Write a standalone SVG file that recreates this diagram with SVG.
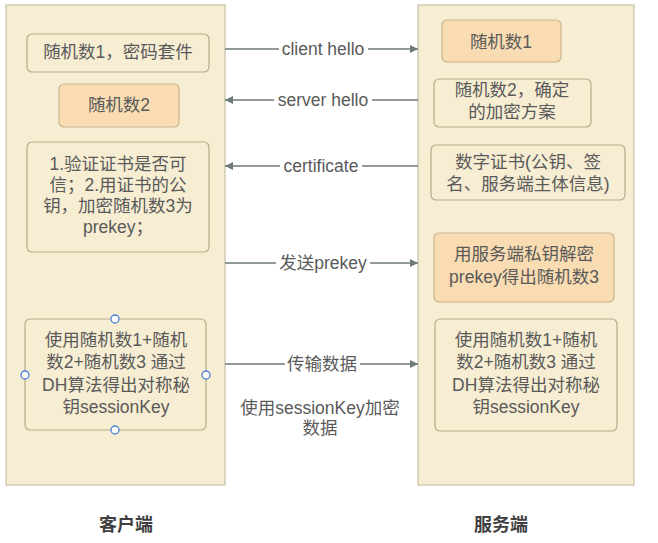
<svg xmlns="http://www.w3.org/2000/svg" width="658" height="543" viewBox="0 0 658 543">
<defs>
<style>
text{font-family:"Liberation Sans","Noto Sans CJK SC",sans-serif;font-size:17.5px;fill:#5a5a5a;text-anchor:middle}
.col{fill:#f6edd2;stroke:#c8c0a6;stroke-width:1.2}
.box{fill:#f6edd2;stroke:#b9ab8c;stroke-width:1.2}
.hot{fill:#f9dcb1;stroke:#c9b48f;stroke-width:1.2}
.ln{stroke:#6e7a79;stroke-width:1.3;fill:none}
.bg{fill:#ffffff}
.h{fill:#ffffff;stroke:#4a7fd6;stroke-width:1.3}
.lbl{font-size:18px;fill:#3f3f3f;font-weight:bold}
</style>
<marker id="ah" viewBox="0 0 10 10" refX="10" refY="5" markerWidth="10" markerHeight="8" markerUnits="userSpaceOnUse" orient="auto">
<path d="M0,0 L10,5 L0,10 z" fill="#6e7a79"/>
</marker>
</defs>
<rect width="658" height="543" fill="#ffffff"/>
<g id="client">
<rect class="col" x="6" y="5" width="219" height="480"/>
</g>
<g id="server">
<rect class="col" x="418" y="5" width="216" height="480"/>
</g>
<g id="connectors">
<line class="ln" x1="225" y1="49" x2="418" y2="49" marker-end="url(#ah)"/>
<line class="ln" x1="418" y1="100" x2="225" y2="100" marker-end="url(#ah)"/>
<line class="ln" x1="418" y1="166" x2="225" y2="166" marker-end="url(#ah)"/>
<line class="ln" x1="225" y1="263" x2="418" y2="263" marker-end="url(#ah)"/>
<line class="ln" x1="225" y1="364" x2="418" y2="364" marker-end="url(#ah)"/>
<rect class="bg" x="279" y="40" width="89" height="18"/>
<rect class="bg" x="274" y="91" width="98" height="18"/>
<rect class="bg" x="280" y="157" width="82" height="18"/>
<rect class="bg" x="276" y="254" width="94" height="18"/>
<rect class="bg" x="285" y="355" width="75" height="18"/>
<text x="323" y="55">client hello</text>
<text x="323" y="106">server hello</text>
<text x="321" y="172">certificate</text>
<text x="323" y="269">发送prekey</text>
<text x="322" y="370">传输数据</text>
<text x="320" y="414">使用sessionKey加密</text>
<text x="320" y="434">数据</text>
</g>
<g id="c1">
<rect class="box" x="27" y="34" width="182" height="38" rx="5"/>
<text x="118" y="58">随机数1，密码套件</text>
</g>
<g id="c2">
<rect class="hot" x="59" y="84" width="120" height="43" rx="5"/>
<text x="119" y="111">随机数2</text>
</g>
<g id="c3">
<rect class="box" x="27" y="142" width="182" height="110" rx="5"/>
<text x="118" y="170">1.验证证书是否可</text>
<text x="118" y="191">信；2.用证书的公</text>
<text x="118" y="212">钥，加密随机数3为</text>
<text x="118" y="233">prekey；</text>
</g>
<g id="c4">
<rect class="box" x="25" y="319" width="181" height="111" rx="5"/>
<text x="116" y="346">使用随机数1+随机</text>
<text x="116" y="368">数2+随机数3 通过</text>
<text x="116" y="391">DH算法得出对称秘</text>
<text x="116" y="413">钥sessionKey</text>
<circle class="h" cx="115" cy="319" r="4"/>
<circle class="h" cx="25" cy="375" r="4"/>
<circle class="h" cx="206" cy="375" r="4"/>
<circle class="h" cx="115" cy="430" r="4"/>
</g>
<g id="s1">
<rect class="hot" x="442" y="20" width="119" height="42" rx="5"/>
<text x="501" y="48">随机数1</text>
</g>
<g id="s2">
<rect class="box" x="434" y="79" width="157" height="48" rx="5"/>
<text x="512" y="96">随机数2，确定</text>
<text x="512" y="118">的加密方案</text>
</g>
<g id="s3">
<rect class="box" x="431" y="145" width="194" height="55" rx="5"/>
<text x="528" y="168">数字证书(公钥、签</text>
<text x="528" y="190">名、服务端主体信息)</text>
</g>
<g id="s4">
<rect class="hot" x="434" y="233" width="180" height="69" rx="5"/>
<text x="524" y="260">用服务端私钥解密</text>
<text x="524" y="283">prekey得出随机数3</text>
</g>
<g id="s5">
<rect class="box" x="435" y="319" width="182" height="112" rx="5"/>
<text x="526" y="346">使用随机数1+随机</text>
<text x="526" y="368">数2+随机数3 通过</text>
<text x="526" y="391">DH算法得出对称秘</text>
<text x="526" y="413">钥sessionKey</text>
</g>
<g id="labels">
<text class="lbl" x="126" y="531">客户端</text>
<text class="lbl" x="501" y="531">服务端</text>
</g>
</svg>
